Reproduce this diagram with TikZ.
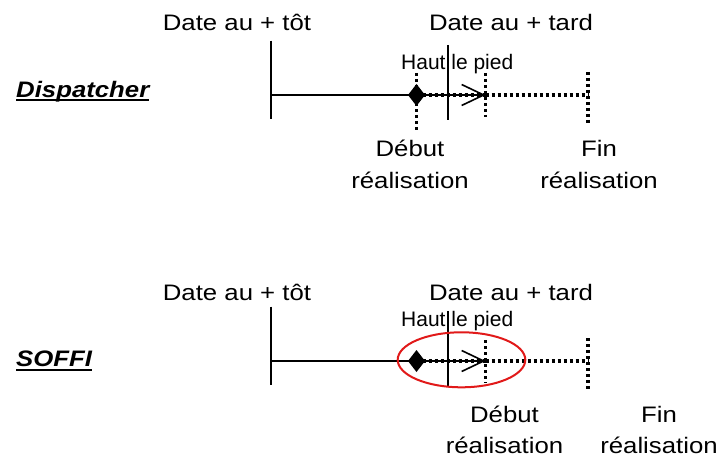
\documentclass[tikz,border=0pt]{standalone}
\usepackage{fontspec}
\setmainfont{Liberation Sans}
\newfontfamily\widefont[FakeStretch=1.15]{Liberation Sans}
\usetikzlibrary{shapes.geometric,arrows.meta}
\definecolor{ovalred}{RGB}{225,25,25}
\newcommand\myul[1]{\setbox0\hbox{#1}\rlap{\rule[-4bp]{\wd0}{2bp}}\box0}
\newcommand\twolines[2]{\begin{tabular}[t]{@{}c@{}}#1\\#2\end{tabular}}
\begin{document}
\begin{tikzpicture}[x=1bp,y=-1bp,
  lbl/.style={font=\widefont\fontsize{22.4bp}{31.6bp}\selectfont, inner sep=0, anchor=base},
  small/.style={font=\fontsize{21bp}{24bp}\selectfont, inner sep=0, anchor=base west},
  ttl/.style={font=\widefont\bfseries\itshape\fontsize{22.4bp}{26bp}\selectfont, inner sep=0, anchor=base west},
  axis/.style={line width=2.7bp},
  tickline/.style={line width=2.1bp},
  dotline/.style={line width=3.2bp, dash pattern=on 3bp off 3bp},
  evt/.style={coordinate},
  evtfill/.style={fill=black},
  arr/.style={-{Straight Barb[length=22bp,width=21bp,line width=1.6bp]}},
  oval/.style={draw=ovalred, line width=2bp, ellipse, minimum width=127.6bp, minimum height=55bp, inner sep=0}
]
\useasboundingbox (0,0) rectangle (725,459);

% ---------------- Top: Dispatcher ----------------
\node[lbl] (t1) at (237,31) {Date au + tôt};
\node[lbl] (t2) at (511,31) {Date au + tard};
\node[ttl] (n1) at (16,97.5) {\myul{Dispatcher}};
\node[small] (h1) at (401,70) {Haut le pied};
\node[lbl] (s1) at (410,156.7) {\twolines{Début}{réalisation}};
\node[lbl] (f1) at (599,156.7) {\twolines{Fin}{réalisation}};

\coordinate (a1) at (270.7,95);
\coordinate (a1t) at (270.7,40.7);
\coordinate (a1b) at (270.7,119);
\coordinate (v1t) at (447.7,45);
\coordinate (v1b) at (447.7,120);
\coordinate (dd1t) at (416.5,73);
\coordinate (dd1b) at (416.5,130);
\coordinate (p1) at (485.5,95);
\coordinate (p1t) at (485.5,73);
\coordinate (p1b) at (485.5,117);
\coordinate (e1) at (588,95);
\coordinate (e1t) at (588,72);
\coordinate (e1b) at (588,125);
\node[evt] (d1) at (416.5,95) {};

\draw[tickline] (a1t) -- (a1b);
\draw[tickline] (v1t) -- (v1b);
\draw[dotline] (dd1t) -- (dd1b);
\draw[dotline] (p1t) -- (p1b);
\draw[dotline] (e1t) -- (e1b);
\draw[axis] (a1) -- (d1);
\draw[dotline] (d1) -- (p1);
\draw[arr, line width=1.6bp] (d1) -- (p1);
\draw[dotline] (p1) -- (e1);
\fill[evtfill] (d1) ++(-8.5,0) -- ++(8.5,-11) -- ++(8.5,11) -- ++(-8.5,11) -- cycle;

% ---------------- Bottom: SOFFI ----------------
\node[lbl] (t3) at (237,301) {Date au + tôt};
\node[lbl] (t4) at (511,301) {Date au + tard};
\node[ttl] (n2) at (16,366.7) {\myul{SOFFI}};
\node[small] (h2) at (401,326.7) {Haut le pied};
\node[lbl] (s2) at (504.5,422.3) {\twolines{Début}{réalisation}};
\node[lbl] (f2) at (659,422.3) {\twolines{Fin}{réalisation}};

\coordinate (a2) at (270.7,361);
\coordinate (a2t) at (270.7,306.7);
\coordinate (a2b) at (270.7,385);
\coordinate (v2t) at (447.7,311);
\coordinate (v2b) at (447.7,386);
\coordinate (p2) at (485.5,361);
\coordinate (p2t) at (485.5,340);
\coordinate (p2b) at (485.5,383);
\coordinate (e2) at (588,361);
\coordinate (e2t) at (588,338);
\coordinate (e2b) at (588,391);
\node[evt] (d2) at (416.5,361) {};

\draw[tickline] (a2t) -- (a2b);
\draw[tickline] (v2t) -- (v2b);
\draw[dotline] (p2t) -- (p2b);
\draw[dotline] (e2t) -- (e2b);
\draw[axis] (a2) -- (d2);
\draw[dotline] (d2) -- (p2);
\draw[arr, line width=1.6bp] (d2) -- (p2);
\draw[dotline] (p2) -- (e2);
\fill[evtfill] (d2) ++(-8.5,0) -- ++(8.5,-11) -- ++(8.5,11) -- ++(-8.5,11) -- cycle;
\node[oval] (o2) at (461.5,359.8) {};
\end{tikzpicture}
\end{document}
